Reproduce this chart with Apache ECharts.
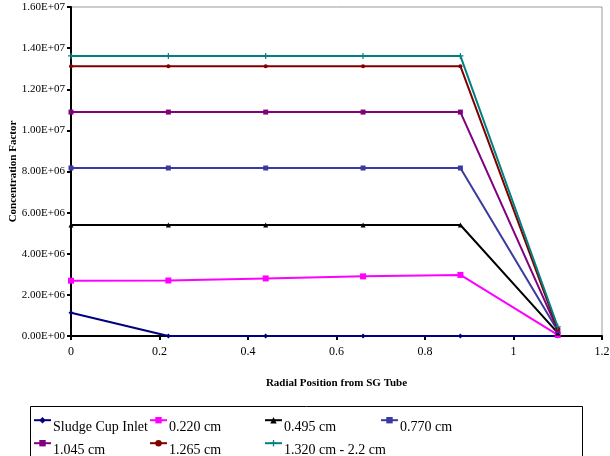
<!DOCTYPE html>
<html><head><meta charset="utf-8">
<script src="https://cdn.jsdelivr.net/npm/echarts@6/dist/echarts.min.js"></script>
<style>html,body{margin:0;padding:0;background:#fff}#c{width:610px;height:456px}</style>
</head><body><div id="c"></div>
<script>
var xPositions = [0, 0.22, 0.44, 0.66, 0.88, 1.1];
var seriesNames = ['Sludge Cup Inlet', '0.220 cm', '0.495 cm', '0.770 cm', '1.045 cm', '1.265 cm', '1.320 cm - 2.2 cm'];
var sludgeCupInlet = [1.13e6, 0, 0, 0, 0, 0];
var cm0220 = [2.69e6, 2.70e6, 2.80e6, 2.90e6, 2.97e6, 0.05e6];
var cm0495 = [5.40e6, 5.40e6, 5.40e6, 5.40e6, 5.40e6, 0.15e6];
var cm0770 = [8.17e6, 8.17e6, 8.17e6, 8.17e6, 8.17e6, 0.25e6];
var cm1045 = [1.089e7, 1.089e7, 1.089e7, 1.089e7, 1.089e7, 0.30e6];
var cm1265 = [1.312e7, 1.312e7, 1.312e7, 1.312e7, 1.312e7, 0.35e6];
var cm1320 = [1.362e7, 1.362e7, 1.362e7, 1.362e7, 1.362e7, 0.45e6];
var yTickLabels = ['0.00E+00','2.00E+06','4.00E+06','6.00E+06','8.00E+06','1.00E+07','1.20E+07','1.40E+07','1.60E+07'];

var allValues = [sludgeCupInlet, cm0220, cm0495, cm0770, cm1045, cm1265, cm1320];
var colors = ['#000080', '#FF00FF', '#000000', '#3A3AA0', '#800080', '#800000', '#008080'];
var plusPath = 'path://M4,0H6V4H10V6H6V10H4V6H0V4H4Z';
var symbols = ['diamond', 'rect', 'triangle', 'rect', 'rect', 'circle', plusPath];
var symbolSizes = [5, 6, 5, 5, 5, 4, 6];

var chart = echarts.init(document.getElementById('c'));
var series = allValues.map(function (vals, i) {
  return {
    name: seriesNames[i], type: 'line',
    data: vals.map(function (v, j) { return [xPositions[j], v]; }),
    symbol: symbols[i], symbolSize: symbolSizes[i], showAllSymbol: true,
    lineStyle: { color: colors[i], width: 2 },
    itemStyle: { color: colors[i] },
    animation: false
  };
});
var font = 'Liberation Serif';
var colLeft = [33, 149, 264, 380];
var legendPos = [[0, 0], [1, 0], [2, 0], [3, 0], [0, 1], [1, 1], [2, 1]];
var legends = seriesNames.map(function (n, i) {
  return {
    data: [n], orient: 'horizontal', left: colLeft[legendPos[i][0]], top: legendPos[i][1] ? 440 : 417,
    itemWidth: 17, itemHeight: 8, padding: 0, selectedMode: false,
    formatter: function (s) { return '{a|' + s + '}'; },
    textStyle: { fontFamily: font, fontSize: 14, color: '#000',
      rich: { a: { fontFamily: font, fontSize: 14, color: '#000', padding: [15, 0, 0, -3] } } }
  };
});
chart.setOption({
  animation: false,
  grid: { left: 71, right: 8, top: 7, bottom: 120, outerBoundsMode: 'none', containLabel: false,
    show: true, borderColor: '#999', borderWidth: 1 },
  xAxis: {
    type: 'value', min: 0, max: 1.2, interval: 0.2,
    name: 'Radial Position from SG Tube', nameLocation: 'middle', nameGap: 42,
    nameTextStyle: { fontFamily: font, fontWeight: 'bold', fontSize: 11, color: '#000' },
    axisLine: { lineStyle: { color: '#000', width: 2 } },
    axisTick: { length: 4, lineStyle: { color: '#000', width: 2 } },
    axisLabel: { fontFamily: font, fontSize: 12, color: '#000', margin: 10,
      formatter: function (v) { return String(Math.round(v * 10) / 10); } },
    splitLine: { show: false }
  },
  yAxis: {
    type: 'value', min: 0, max: 1.6e7, interval: 2e6,
    name: 'Concentration Factor', nameLocation: 'middle', nameGap: 52, nameMoveOverlap: false,
    nameTextStyle: { fontFamily: font, fontWeight: 'bold', fontSize: 11, color: '#000' },
    axisLine: { lineStyle: { color: '#000', width: 2 } },
    axisTick: { length: 4, lineStyle: { color: '#000', width: 2 } },
    axisLabel: { fontFamily: font, fontSize: 11, color: '#000', margin: 6,
      formatter: function (v) { return yTickLabels[Math.round(v / 2e6)]; } },
    splitLine: { show: false }
  },
  legend: legends,
  graphic: [{ type: 'rect', shape: { x: 30.5, y: 406.5, width: 552, height: 60 },
    style: { fill: 'none', stroke: '#000', lineWidth: 1 } }],
  series: series
});
</script></body></html>
